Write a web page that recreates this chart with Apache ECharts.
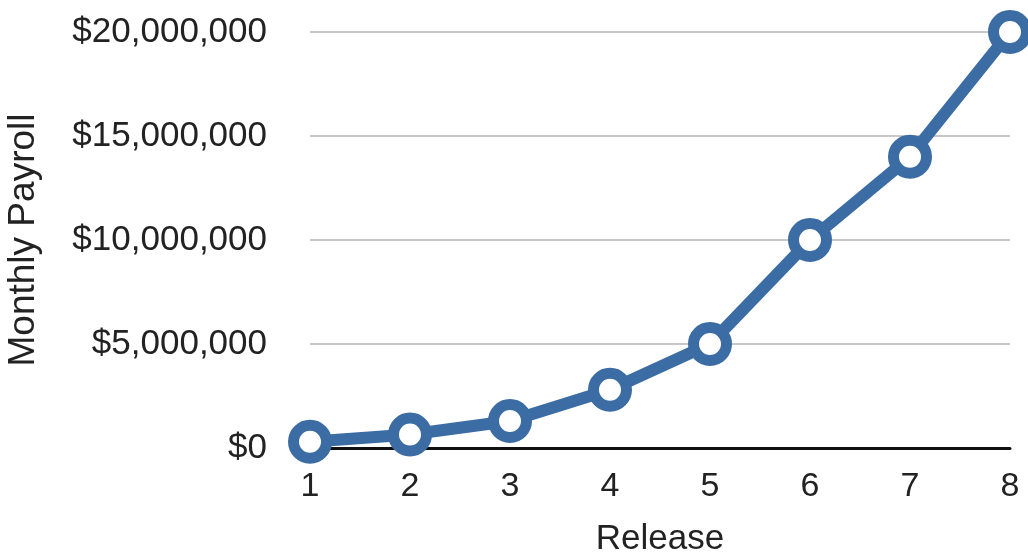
<!DOCTYPE html>
<html>
<head>
<meta charset="utf-8">
<script src="https://cdn.jsdelivr.net/npm/echarts@6/dist/echarts.min.js"></script>
<style>
html,body{margin:0;padding:0;background:#fff;}
#c{width:1028px;height:559px;}
</style>
</head>
<body>
<div id="c"></div>
<script>
const releases = ['1','2','3','4','5','6','7','8'];
const payroll = [300000, 650000, 1300000, 2800000, 5000000, 10000000, 14000000, 20000000];
const yTicks = [0, 5000000, 10000000, 15000000, 20000000];

const chart = echarts.init(document.getElementById('c'));
const font = 'Liberation Sans, Arial, Helvetica, sans-serif';
chart.setOption({
  animation: false,
  backgroundColor: '#ffffff',
  grid: { left: 310, right: 18, top: 32, bottom: 111, containLabel: false, outerBoundsMode: 'none' },
  xAxis: {
    type: 'category',
    data: releases,
    boundaryGap: false,
    name: 'Release',
    nameLocation: 'middle',
    nameGap: 74,
    nameTextStyle: { fontSize: 35, color: '#222', fontFamily: font },
    axisLine: { show: true, lineStyle: { color: '#111', width: 3 } },
    axisTick: { show: false },
    axisLabel: { fontSize: 34, color: '#222', fontFamily: font, margin: 22 },
    splitLine: { show: false }
  },
  yAxis: {
    type: 'value',
    min: yTicks[0],
    max: yTicks[yTicks.length - 1],
    interval: yTicks[1] - yTicks[0],
    name: 'Monthly Payroll',
    nameLocation: 'middle',
    nameGap: 268,
    nameTextStyle: { fontSize: 37, color: '#222', fontFamily: font },
    axisLine: { show: false },
    axisTick: { show: false },
    axisLabel: {
      fontSize: 35, color: '#222', fontFamily: font, margin: 43,
      formatter: v => '$' + v.toLocaleString('en-US')
    },
    splitLine: { show: true, lineStyle: { color: '#c8c8c8', width: 2 } }
  },
  series: [{
    type: 'line',
    data: payroll,
    symbol: 'circle',
    symbolSize: 33,
    showAllSymbol: true,
    lineStyle: { color: '#3b6ca3', width: 12 },
    itemStyle: { color: '#ffffff', borderColor: '#3b6ca3', borderWidth: 11 },
    emphasis: { disabled: true },
    clip: false,
    z: 5
  }]
});
</script>
</body>
</html>
